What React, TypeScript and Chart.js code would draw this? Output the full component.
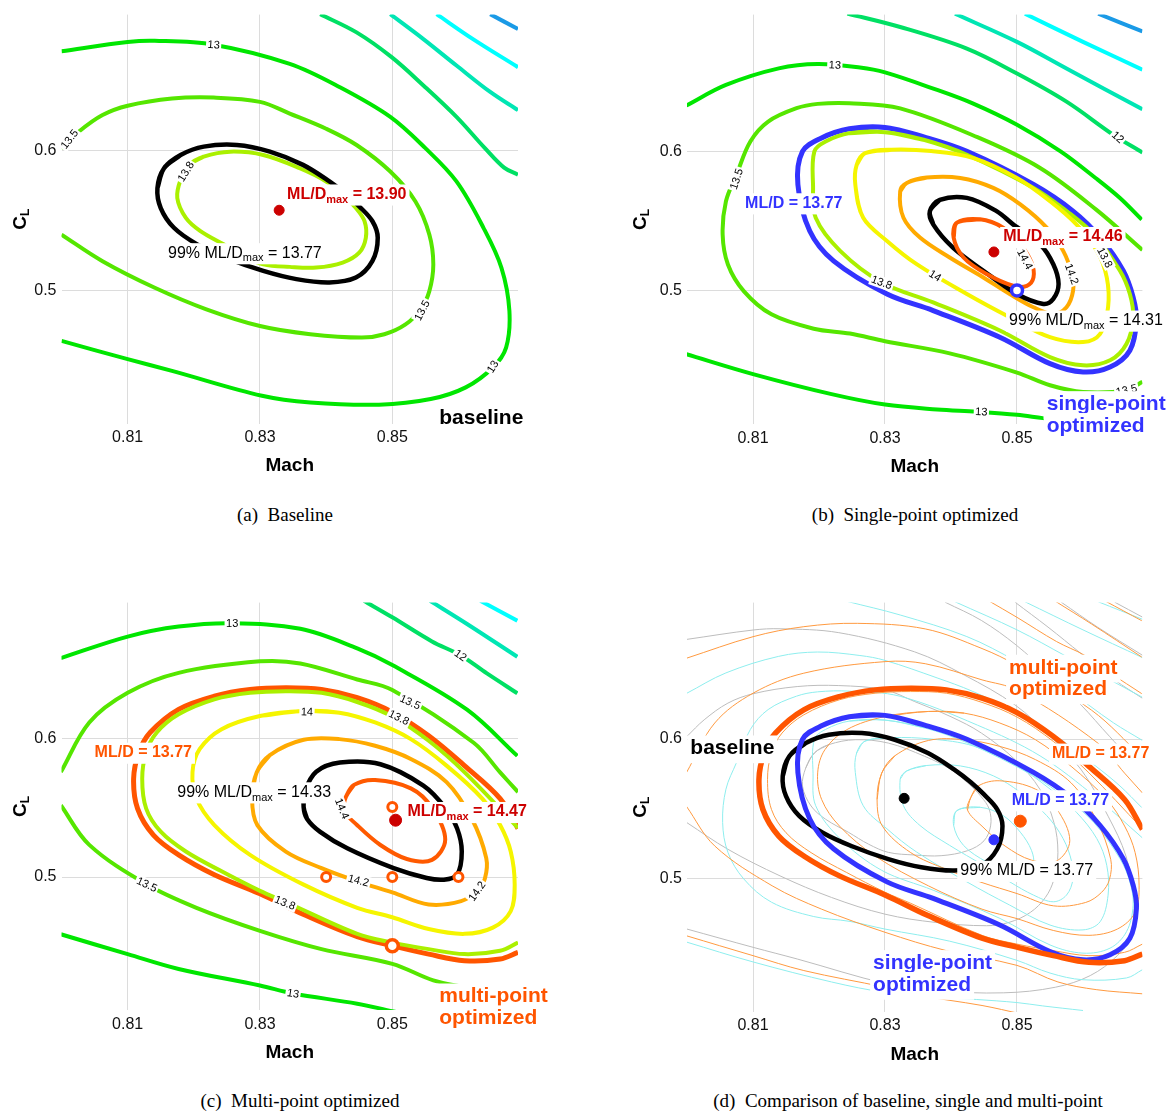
import React, { useEffect, useRef } from 'react';
import { Chart, registerables } from 'chart.js';
Chart.register(...registerables);

type P = [number, number];

// ---------- axes ----------
const X_TICKS = [0.81, 0.83, 0.85];
const Y_TICKS = [0.5, 0.6];
const X_MIN = 0.8, X_MAX = 0.869, Y_MIN = 0.404, Y_MAX = 0.698;

// ---------- (a) baseline contours ----------
const A_9: P[] = [[0.8648,0.6983],[0.8690,0.6876]];
const A_10: P[] = [[0.8567,0.6983],[0.8622,0.6804],[0.8690,0.6602]];
const A_11: P[] = [[0.8497,0.6983],[0.8547,0.6804],[0.8597,0.6614],[0.8648,0.6424],[0.8690,0.6293]];
const A_12: P[] = [[0.8391,0.6983],[0.8446,0.6852],[0.8499,0.6674],[0.8547,0.6471],[0.8597,0.6245],[0.8640,0.6020],[0.8669,0.5880],[0.8690,0.5830]];
const A_13: P[] = [[0.8000,0.6716],[0.8100,0.6783],[0.8141,0.6792],[0.8230,0.6764],[0.8345,0.6626],[0.8420,0.6460],[0.8497,0.6245],[0.8550,0.6020],[0.8597,0.5781],[0.8638,0.5446],[0.8665,0.5160],[0.8677,0.4850],[0.8672,0.4587],[0.8652,0.4444],[0.8611,0.4301],[0.8558,0.4217],[0.8480,0.4177],[0.8376,0.4193],[0.8303,0.4241],[0.8167,0.4420],[0.8100,0.4504],[0.8000,0.4635]];
const A_135: P[] = [[0.8000,0.6019],[0.8026,0.6138],[0.8062,0.6258],[0.8100,0.6325],[0.8167,0.6377],[0.8230,0.6384],[0.8300,0.6353],[0.8345,0.6269],[0.8400,0.6160],[0.8446,0.6043],[0.8497,0.5852],[0.8535,0.5637],[0.8556,0.5399],[0.8562,0.5184],[0.8556,0.4993],[0.8543,0.4862],[0.8520,0.4754],[0.8488,0.4683],[0.8454,0.4659],[0.8376,0.4683],[0.8300,0.4742],[0.8219,0.4862],[0.8141,0.5017],[0.8062,0.5208],[0.8000,0.5399]];
const A_138: P[] = [[0.8193,0.5900],[0.8180,0.5793],[0.8175,0.5662],[0.8188,0.5519],[0.8210,0.5424],[0.8245,0.5329],[0.8275,0.5245],[0.8305,0.5186],[0.8345,0.5167],[0.8385,0.5162],[0.8425,0.5198],[0.8450,0.5269],[0.8460,0.5376],[0.8458,0.5495],[0.8445,0.5590],[0.8425,0.5686],[0.8400,0.5781],[0.8360,0.5876],[0.8305,0.5971],[0.8255,0.5995],[0.8215,0.5960]];
const A_99: P[] = [[0.8155,0.5876],[0.8145,0.5733],[0.8150,0.5590],[0.8170,0.5448],[0.8205,0.5329],[0.8250,0.5230],[0.8305,0.5138],[0.8355,0.5079],[0.8405,0.5055],[0.8445,0.5090],[0.8470,0.5210],[0.8478,0.5376],[0.8470,0.5495],[0.8450,0.5602],[0.8430,0.5690],[0.8405,0.5781],[0.8365,0.5900],[0.8315,0.5995],[0.8265,0.6043],[0.8215,0.6031],[0.8180,0.5971]];
const A_MAX: P = [0.8329, 0.5574];

// ---------- (b) single-point optimized contours ----------
const B_9: P[] = [[0.8623,0.6986],[0.8690,0.6860]];
const B_10: P[] = [[0.8512,0.6986],[0.8600,0.6784],[0.8690,0.6585]];
const B_11: P[] = [[0.8406,0.6986],[0.8500,0.6784],[0.8575,0.6593],[0.8690,0.6300]];
const B_12: P[] = [[0.8243,0.6988],[0.8323,0.6891],[0.8424,0.6736],[0.8500,0.6557],[0.8575,0.6355],[0.8646,0.6117],[0.8690,0.5990]];
const B_13T: P[] = [[0.7999,0.6327],[0.8059,0.6475],[0.8139,0.6594],[0.8198,0.6625],[0.8262,0.6600],[0.8300,0.6565],[0.8379,0.6439],[0.8432,0.6344],[0.8500,0.6189],[0.8566,0.5998],[0.8619,0.5807],[0.8656,0.5663],[0.8689,0.5508]];
const B_13B: P[] = [[0.7999,0.4542],[0.8100,0.4399],[0.8219,0.4255],[0.8300,0.4180],[0.8379,0.4145],[0.8439,0.4129],[0.8500,0.4107],[0.8539,0.4083],[0.8600,0.4050]];
const B_135: P[] = [[0.8690,0.5290],[0.8620,0.5580],[0.8535,0.5879],[0.8440,0.6100],[0.8323,0.6307],[0.8246,0.6344],[0.8198,0.6339],[0.8166,0.6308],[0.8123,0.6212],[0.8096,0.6069],[0.8075,0.5831],[0.8059,0.5640],[0.8054,0.5401],[0.8062,0.5186],[0.8086,0.4995],[0.8128,0.4828],[0.8192,0.4725],[0.8247,0.4690],[0.8300,0.4635],[0.8398,0.4548],[0.8500,0.4410],[0.8550,0.4319],[0.8600,0.4271],[0.8666,0.4284],[0.8690,0.4343]];
const B_1377: P[] = [[0.8300,0.6170],[0.8246,0.6160],[0.8203,0.6093],[0.8175,0.5998],[0.8168,0.5760],[0.8186,0.5426],[0.8222,0.5212],[0.8303,0.4974],[0.8373,0.4855],[0.8474,0.4664],[0.8550,0.4474],[0.8600,0.4414],[0.8641,0.4450],[0.8671,0.4569],[0.8681,0.4784],[0.8676,0.4950],[0.8661,0.5141],[0.8626,0.5379],[0.8585,0.5569],[0.8525,0.5760],[0.8424,0.5998],[0.8360,0.6100]];
const B_138: P[] = [[0.8300,0.6136],[0.8246,0.6129],[0.8210,0.6069],[0.8193,0.5998],[0.8191,0.5750],[0.8195,0.5521],[0.8232,0.5284],[0.8295,0.5057],[0.8373,0.4914],[0.8474,0.4712],[0.8550,0.4521],[0.8600,0.4462],[0.8641,0.4498],[0.8666,0.4617],[0.8676,0.4807],[0.8671,0.4974],[0.8656,0.5141],[0.8616,0.5403],[0.8575,0.5570],[0.8525,0.5736],[0.8424,0.5974],[0.8360,0.6080]];
const B_14: P[] = [[0.8270,0.5985],[0.8257,0.5900],[0.8255,0.5760],[0.8267,0.5521],[0.8303,0.5355],[0.8348,0.5188],[0.8424,0.4974],[0.8489,0.4807],[0.8550,0.4664],[0.8600,0.4629],[0.8626,0.4688],[0.8638,0.4879],[0.8636,0.5093],[0.8621,0.5284],[0.8590,0.5474],[0.8550,0.5641],[0.8500,0.5807],[0.8434,0.5950],[0.8370,0.6000],[0.8310,0.6010]];
const B_142: P[] = [[0.8333,0.5771],[0.8323,0.5712],[0.8328,0.5521],[0.8353,0.5379],[0.8398,0.5236],[0.8449,0.5093],[0.8489,0.4974],[0.8525,0.4879],[0.8555,0.4831],[0.8575,0.4879],[0.8585,0.4998],[0.8583,0.5117],[0.8570,0.5284],[0.8545,0.5450],[0.8505,0.5617],[0.8464,0.5736],[0.8414,0.5807],[0.8363,0.5810]];
const B_99: P[] = [[0.8368,0.5569],[0.8373,0.5474],[0.8403,0.5307],[0.8449,0.5141],[0.8500,0.4974],[0.8540,0.4903],[0.8555,0.4939],[0.8563,0.5046],[0.8555,0.5188],[0.8535,0.5331],[0.8494,0.5474],[0.8469,0.5569],[0.8424,0.5664],[0.8383,0.5650]];
const B_144: P[] = [[0.8409,0.5486],[0.8404,0.5379],[0.8419,0.5236],[0.8454,0.5117],[0.8494,0.5033],[0.8515,0.5033],[0.8525,0.5093],[0.8522,0.5200],[0.8505,0.5331],[0.8479,0.5450],[0.8444,0.5510]];
const B_MAX: P = [0.8465, 0.5276];
const B_DESIGN: P = [0.85, 0.50];

// ---------- (c) multi-point optimized contours ----------
const C_10: P[] = [[0.8633,0.6993],[0.8689,0.6850]];
const C_11: P[] = [[0.8557,0.6993],[0.8613,0.6826],[0.8689,0.6589]];
const C_12: P[] = [[0.8457,0.6993],[0.8500,0.6874],[0.8560,0.6700],[0.8603,0.6600],[0.8643,0.6469],[0.8689,0.6326]];
const C_13T: P[] = [[0.7999,0.6580],[0.8100,0.6735],[0.8177,0.6807],[0.8258,0.6831],[0.8361,0.6791],[0.8447,0.6650],[0.8500,0.6529],[0.8613,0.6207],[0.8689,0.5874]];
const C_13B: P[] = [[0.7999,0.4587],[0.8100,0.4444],[0.8177,0.4337],[0.8300,0.4217],[0.8350,0.4160],[0.8447,0.4086],[0.8506,0.4026]];
const C_135A: P[] = [[0.7999,0.5757],[0.8042,0.6115],[0.8100,0.6329],[0.8177,0.6473],[0.8300,0.6556],[0.8361,0.6541],[0.8447,0.6425],[0.8500,0.6350],[0.8623,0.5969],[0.8663,0.5755],[0.8690,0.5613]];
const C_135B: P[] = [[0.7999,0.5518],[0.8042,0.5232],[0.8129,0.4946],[0.8204,0.4778],[0.8300,0.4612],[0.8393,0.4480],[0.8500,0.4374],[0.8562,0.4255],[0.8620,0.4200],[0.8690,0.4170]];
const C_1377: P[] = [[0.8690,0.5351],[0.8663,0.5566],[0.8609,0.5804],[0.8555,0.6019],[0.8500,0.6190],[0.8447,0.6294],[0.8393,0.6353],[0.8339,0.6365],[0.8285,0.6353],[0.8231,0.6305],[0.8177,0.6210],[0.8134,0.6043],[0.8117,0.5900],[0.8109,0.5709],[0.8115,0.5494],[0.8139,0.5303],[0.8177,0.5160],[0.8231,0.5017],[0.8300,0.4880],[0.8366,0.4730],[0.8447,0.4570],[0.8500,0.4505],[0.8555,0.4444],[0.8609,0.4396],[0.8663,0.4408],[0.8690,0.4456]];
const C_138: P[] = [[0.8690,0.5355],[0.8609,0.5757],[0.8555,0.5983],[0.8500,0.6158],[0.8447,0.6263],[0.8393,0.6329],[0.8339,0.6341],[0.8285,0.6329],[0.8231,0.6282],[0.8177,0.6174],[0.8144,0.6043],[0.8128,0.5900],[0.8122,0.5709],[0.8128,0.5494],[0.8150,0.5327],[0.8188,0.5184],[0.8242,0.5041],[0.8300,0.4900],[0.8339,0.4820],[0.8447,0.4590],[0.8500,0.4527],[0.8555,0.4480],[0.8609,0.4444],[0.8663,0.4468],[0.8690,0.4527]];
const C_14: P[] = [[0.8366,0.6198],[0.8300,0.6162],[0.8242,0.6067],[0.8209,0.5924],[0.8198,0.5757],[0.8204,0.5566],[0.8231,0.5375],[0.8285,0.5160],[0.8366,0.4945],[0.8447,0.4778],[0.8500,0.4710],[0.8555,0.4625],[0.8609,0.4590],[0.8652,0.4635],[0.8679,0.4754],[0.8685,0.4945],[0.8679,0.5184],[0.8663,0.5375],[0.8636,0.5566],[0.8582,0.5804],[0.8528,0.5995],[0.8474,0.6115],[0.8420,0.6186]];
const C_142: P[] = [[0.8295,0.5755],[0.8315,0.5880],[0.8366,0.5990],[0.8420,0.5995],[0.8474,0.5947],[0.8528,0.5852],[0.8582,0.5685],[0.8620,0.5422],[0.8642,0.5136],[0.8640,0.4990],[0.8628,0.4898],[0.8604,0.4826],[0.8555,0.4802],[0.8500,0.4890],[0.8447,0.4969],[0.8393,0.5064],[0.8339,0.5184],[0.8296,0.5375],[0.8288,0.5566]];
const C_99: P[] = [[0.8366,0.5505],[0.8368,0.5620],[0.8385,0.5760],[0.8421,0.5826],[0.8482,0.5814],[0.8547,0.5660],[0.8580,0.5500],[0.8598,0.5350],[0.8605,0.5184],[0.8598,0.5017],[0.8578,0.4981],[0.8552,0.4993],[0.8502,0.5064],[0.8432,0.5207],[0.8391,0.5326],[0.8371,0.5421]];
const C_144: P[] = [[0.8430,0.5580],[0.8442,0.5665],[0.8474,0.5700],[0.8528,0.5640],[0.8560,0.5500],[0.8580,0.5270],[0.8560,0.5124],[0.8522,0.5130],[0.8482,0.5231],[0.8447,0.5374],[0.8425,0.5490]];
const C_MAX: P = [0.8505, 0.5410];
const C_DESIGN: P[] = [[0.85,0.5505],[0.84,0.50],[0.85,0.50],[0.86,0.50]];
const C_DESIGN_BIG: P = [0.85, 0.4505];

// ---------- styling ----------
const FAM = '"Liberation Sans", Arial, Helvetica, sans-serif';
const COL = {
  c9: '#1a9ae6', c10: '#00ffff', c11: '#00e6b4', c12: '#00e064', c13: '#00e600',
  c135: '#55e600', c138: '#aaf000', c14: '#f5f500', c142: '#ffaa00', c144: '#ff5a00',
  black: '#000000', blue: '#3333ff', multi: '#ff5500', red: '#cc0000',
  thinA: '#bdbdbd', thinB: '#8eeeee', thinC: '#ff9a40',
};

interface LineSpec { pts: P[]; color: string; width: number; closed?: boolean }
interface MarkSpec { p: P; r: number; fill: string; stroke: string; bw: number }
interface Seg { t: string; sub?: boolean }
interface Ann { segs: Seg[]; x: number; y: number; color: string; size: number; bold?: boolean }
interface CLab { t: string; x: number; y: number; rot: number }
interface PanelCfg {
  left: number; top: number; width: number; height: number;
  yAxisW: number; padRight: number; padTop: number; xAxisH: number;
  lines: LineSpec[]; marks: MarkSpec[]; anns: Ann[]; clabs: CLab[];
}

const mx = (t: string): Seg[] => [{ t: 'ML/D' }, { t: 'max', sub: true }, { t }];
const mx99 = (t: string): Seg[] => [{ t: '99% ML/D' }, { t: 'max', sub: true }, { t }];

const A_LINES: LineSpec[] = [
  { pts: A_9, color: COL.c9, width: 4 }, { pts: A_10, color: COL.c10, width: 4 },
  { pts: A_11, color: COL.c11, width: 4 }, { pts: A_12, color: COL.c12, width: 4 },
  { pts: A_13, color: COL.c13, width: 4 }, { pts: A_135, color: COL.c135, width: 4 },
  { pts: A_138, color: COL.c138, width: 4, closed: true },
  { pts: A_99, color: COL.black, width: 4.5, closed: true },
];
const B_LINES: LineSpec[] = [
  { pts: B_9, color: COL.c9, width: 4 }, { pts: B_10, color: COL.c10, width: 4 },
  { pts: B_11, color: COL.c11, width: 4 }, { pts: B_12, color: COL.c12, width: 4 },
  { pts: B_13T, color: COL.c13, width: 4 }, { pts: B_13B, color: COL.c13, width: 4 },
  { pts: B_135, color: COL.c135, width: 4 },
  { pts: B_1377, color: COL.blue, width: 5, closed: true },
  { pts: B_138, color: COL.c138, width: 4, closed: true },
  { pts: B_14, color: COL.c14, width: 4, closed: true },
  { pts: B_142, color: COL.c142, width: 4, closed: true },
  { pts: B_99, color: COL.black, width: 4.5, closed: true },
  { pts: B_144, color: COL.c144, width: 4, closed: true },
];
const C_LINES: LineSpec[] = [
  { pts: C_10, color: COL.c10, width: 4 }, { pts: C_11, color: COL.c11, width: 4 },
  { pts: C_12, color: COL.c12, width: 4 },
  { pts: C_13T, color: COL.c13, width: 4 }, { pts: C_13B, color: COL.c13, width: 4 },
  { pts: C_135A, color: COL.c135, width: 4 }, { pts: C_135B, color: COL.c135, width: 4 },
  { pts: C_1377, color: COL.multi, width: 5 },
  { pts: C_138, color: COL.c138, width: 4 },
  { pts: C_14, color: COL.c14, width: 4, closed: true },
  { pts: C_142, color: COL.c142, width: 4, closed: true },
  { pts: C_99, color: COL.black, width: 4.5, closed: true },
  { pts: C_144, color: COL.c144, width: 4, closed: true },
];
const thin = (ls: LineSpec[], color: string, skip: P[][]) =>
  ls.filter(l => !skip.includes(l.pts)).map(l => ({ ...l, color, width: 1 }));
const D_LINES: LineSpec[] = [
  ...thin(A_LINES, COL.thinA, [A_99]),
  ...thin(B_LINES, COL.thinB, [B_99, B_1377]),
  ...thin(C_LINES, COL.thinC, [C_99, C_1377]),
  { pts: A_99, color: COL.black, width: 4.5, closed: true },
  { pts: B_1377, color: COL.blue, width: 5, closed: true },
  { pts: C_1377, color: COL.multi, width: 5.5 },
];

const PANELS: PanelCfg[] = [
  {
    left: 0, top: 0, width: 560, height: 490, yAxisW: 61.5, padRight: 42, padTop: 12.1, xAxisH: 66.3,
    lines: A_LINES,
    marks: [{ p: A_MAX, r: 5, fill: COL.red, stroke: COL.red, bw: 1 }],
    anns: [
      { segs: mx(' = 13.90'), x: 0.8341, y: 0.5688, color: COL.red, size: 16, bold: true },
      { segs: mx99(' = 13.77'), x: 0.8161, y: 0.5266, color: '#000', size: 16 },
      { segs: [{ t: 'baseline' }], x: 0.8571, y: 0.4081, color: '#000', size: 21, bold: true },
    ],
    clabs: [
      { t: '13', x: 0.8230, y: 0.6764, rot: 4 },
      { t: '13.5', x: 0.8012, y: 0.6085, rot: -52 },
      { t: '13.8', x: 0.8188, y: 0.5852, rot: -58 },
      { t: '13.5', x: 0.8545, y: 0.4855, rot: -62 },
      { t: '13', x: 0.8652, y: 0.4450, rot: -58 },
    ],
  },
  {
    left: 620, top: 0, width: 553, height: 490, yAxisW: 67, padRight: 30.6, padTop: 12.5, xAxisH: 65.9,
    lines: B_LINES,
    marks: [
      { p: B_MAX, r: 5, fill: COL.red, stroke: COL.red, bw: 1 },
      { p: B_DESIGN, r: 5.5, fill: '#ffffff', stroke: COL.blue, bw: 3.5 },
    ],
    anns: [
      { segs: mx(' = 14.46'), x: 0.8479, y: 0.5384, color: COL.red, size: 16, bold: true },
      { segs: [{ t: 'ML/D = 13.77' }], x: 0.8088, y: 0.5626, color: COL.blue, size: 16, bold: true },
      { segs: mx99(' = 14.31'), x: 0.8488, y: 0.4784, color: '#000', size: 16 },
      { segs: [{ t: 'single-point' }], x: 0.8545, y: 0.4183, color: COL.blue, size: 21, bold: true },
      { segs: [{ t: 'optimized' }], x: 0.8545, y: 0.4026, color: COL.blue, size: 21, bold: true },
    ],
    clabs: [
      { t: '13', x: 0.8224, y: 0.6618, rot: 3 },
      { t: '12', x: 0.8653, y: 0.6100, rot: 42 },
      { t: '13.5', x: 0.8075, y: 0.5800, rot: -72 },
      { t: '13.8', x: 0.8295, y: 0.5057, rot: 20 },
      { t: '14', x: 0.8376, y: 0.5105, rot: 32 },
      { t: '14.4', x: 0.8512, y: 0.5224, rot: 62 },
      { t: '14.2', x: 0.8583, y: 0.5117, rot: 70 },
      { t: '13.8', x: 0.8633, y: 0.5236, rot: 62 },
      { t: '13', x: 0.8446, y: 0.4129, rot: 2 },
      { t: '13.5', x: 0.8666, y: 0.4284, rot: -12 },
    ],
  },
  {
    left: 0, top: 588, width: 560, height: 490, yAxisW: 61.5, padRight: 42, padTop: 10.5, xAxisH: 67.9,
    lines: C_LINES,
    marks: [
      ...C_DESIGN.map(p => ({ p, r: 4.5, fill: '#ffffff', stroke: COL.multi, bw: 3 })),
      { p: C_DESIGN_BIG, r: 6, fill: '#ffffff', stroke: COL.multi, bw: 3.5 },
      { p: C_MAX, r: 6, fill: COL.red, stroke: COL.red, bw: 1 },
    ],
    anns: [
      { segs: [{ t: 'ML/D = 13.77' }], x: 0.8050, y: 0.5898, color: COL.multi, size: 16, bold: true },
      { segs: mx99(' = 14.33'), x: 0.8175, y: 0.5612, color: '#000', size: 16 },
      { segs: mx(' = 14.47'), x: 0.8523, y: 0.5470, color: COL.red, size: 16, bold: true },
      { segs: [{ t: 'multi-point' }], x: 0.8571, y: 0.4138, color: COL.multi, size: 21, bold: true },
      { segs: [{ t: 'optimized' }], x: 0.8571, y: 0.3980, color: COL.multi, size: 21, bold: true },
    ],
    clabs: [
      { t: '13', x: 0.8258, y: 0.6831, rot: 0 },
      { t: '12', x: 0.8603, y: 0.6600, rot: 35 },
      { t: '13.5', x: 0.8527, y: 0.6262, rot: 24 },
      { t: '13.8', x: 0.8510, y: 0.6150, rot: 26 },
      { t: '14', x: 0.8371, y: 0.6192, rot: 2 },
      { t: '14.4', x: 0.8424, y: 0.5493, rot: 68 },
      { t: '14.2', x: 0.8449, y: 0.4975, rot: 15 },
      { t: '14.2', x: 0.8628, y: 0.4898, rot: -55 },
      { t: '13.8', x: 0.8338, y: 0.4814, rot: 22 },
      { t: '13.5', x: 0.8129, y: 0.4946, rot: 25 },
      { t: '13', x: 0.8350, y: 0.4160, rot: 9 },
    ],
  },
  {
    left: 620, top: 588, width: 553, height: 490, yAxisW: 67, padRight: 30.6, padTop: 12.3, xAxisH: 66.1,
    lines: D_LINES,
    marks: [
      { p: A_MAX, r: 5, fill: '#000', stroke: '#000', bw: 1 },
      { p: B_MAX, r: 5, fill: COL.blue, stroke: COL.blue, bw: 1 },
      { p: C_MAX, r: 6, fill: COL.multi, stroke: COL.multi, bw: 1 },
    ],
    anns: [
      { segs: [{ t: 'baseline' }], x: 0.8005, y: 0.5932, color: '#000', size: 21, bold: true },
      { segs: [{ t: 'multi-point' }], x: 0.8488, y: 0.6512, color: COL.multi, size: 21, bold: true },
      { segs: [{ t: 'optimized' }], x: 0.8488, y: 0.6355, color: COL.multi, size: 21, bold: true },
      { segs: [{ t: 'ML/D = 13.77' }], x: 0.8553, y: 0.5896, color: COL.multi, size: 16, bold: true },
      { segs: [{ t: 'ML/D = 13.77' }], x: 0.8492, y: 0.5561, color: COL.blue, size: 16, bold: true },
      { segs: [{ t: '99% ML/D = 13.77' }], x: 0.8414, y: 0.5054, color: '#000', size: 16 },
      { segs: [{ t: 'single-point' }], x: 0.8282, y: 0.4390, color: COL.blue, size: 21, bold: true },
      { segs: [{ t: 'optimized' }], x: 0.8282, y: 0.4233, color: COL.blue, size: 21, bold: true },
    ],
    clabs: [],
  },
];

const CAPTIONS = [
  { t: '(a)\u00a0\u00a0Baseline', cx: 285, cy: 515 },
  { t: '(b)\u00a0\u00a0Single-point optimized', cx: 915, cy: 515 },
  { t: '(c)\u00a0\u00a0Multi-point optimized', cx: 300, cy: 1101 },
  { t: '(d)\u00a0\u00a0Comparison of baseline, single and multi-point', cx: 908, cy: 1101 },
];

function drawAnn(ctx: CanvasRenderingContext2D, a: Ann, px: number, py: number) {
  const wt = a.bold ? 'bold ' : '';
  const subSize = Math.round(a.size * 0.68);
  const widths: number[] = [];
  let total = 0;
  for (const s of a.segs) {
    ctx.font = `${wt}${s.sub ? subSize : a.size}px ${FAM}`;
    const w = ctx.measureText(s.t).width;
    widths.push(w);
    total += w;
  }
  ctx.fillStyle = '#ffffff';
  ctx.fillRect(px - 3, py - a.size * 0.62, total + 6, a.size * 1.32);
  ctx.fillStyle = a.color;
  ctx.textBaseline = 'middle';
  ctx.textAlign = 'left';
  let x = px;
  a.segs.forEach((s, i) => {
    ctx.font = `${wt}${s.sub ? subSize : a.size}px ${FAM}`;
    ctx.fillText(s.t, x, s.sub ? py + a.size * 0.33 : py);
    x += widths[i];
  });
}

const annPlugin = {
  id: 'annots',
  afterDatasetsDraw(chart: any, _args: any, opts: any) {
    const cfg: PanelCfg = opts.cfg;
    const { ctx, chartArea } = chart;
    const xs = chart.scales.x, ys = chart.scales.y;
    ctx.save();
    for (const c of cfg.clabs) {
      const px = xs.getPixelForValue(c.x), py = ys.getPixelForValue(c.y);
      ctx.save();
      ctx.translate(px, py);
      ctx.rotate((c.rot * Math.PI) / 180);
      ctx.font = `11px ${FAM}`;
      const w = ctx.measureText(c.t).width;
      ctx.fillStyle = '#ffffff';
      ctx.fillRect(-w / 2 - 1.5, -6, w + 3, 12);
      ctx.fillStyle = '#000';
      ctx.textAlign = 'center';
      ctx.textBaseline = 'middle';
      ctx.fillText(c.t, 0, 0.5);
      ctx.restore();
    }
    for (const a of cfg.anns) drawAnn(ctx, a, xs.getPixelForValue(a.x), ys.getPixelForValue(a.y));
    // axis titles
    ctx.fillStyle = '#000';
    ctx.font = `bold 19px ${FAM}`;
    ctx.textAlign = 'center';
    ctx.textBaseline = 'middle';
    ctx.fillText('Mach', (chartArea.left + chartArea.right) / 2, chartArea.bottom + 42.5);
    ctx.save();
    ctx.translate(20.5, (chartArea.top + chartArea.bottom) / 2);
    ctx.rotate(-Math.PI / 2);
    ctx.font = `bold 19px ${FAM}`;
    const wc = ctx.measureText('C').width;
    ctx.font = `bold 12px ${FAM}`;
    const wl = ctx.measureText('L').width;
    const x0 = -(wc + wl) / 2;
    ctx.textAlign = 'left';
    ctx.font = `bold 19px ${FAM}`;
    ctx.fillText('C', x0, 0);
    ctx.font = `bold 12px ${FAM}`;
    ctx.fillText('L', x0 + wc, 5);
    ctx.restore();
    ctx.restore();
  },
};

function buildDatasets(cfg: PanelCfg) {
  const list: any[] = [];
  for (const l of cfg.lines) {
    const n = l.pts.length;
    const arr = l.closed ? [l.pts[n - 1], ...l.pts, l.pts[0], l.pts[1]] : l.pts;
    list.push({
      data: arr.map(([x, y]) => ({ x, y })),
      showLine: true,
      borderColor: l.color,
      backgroundColor: l.color,
      borderWidth: l.width,
      borderJoinStyle: 'round',
      pointRadius: 0,
      pointHoverRadius: 0,
      tension: 0.35,
      fill: false,
      clip: 0,
    });
  }
  for (const m of cfg.marks) {
    list.push({
      data: [{ x: m.p[0], y: m.p[1] }],
      showLine: false,
      pointRadius: m.r,
      pointHoverRadius: m.r,
      pointBackgroundColor: m.fill,
      pointBorderColor: m.stroke,
      pointBorderWidth: m.bw,
      clip: false,
    });
  }
  const N = list.length;
  list.forEach((d, i) => { d.order = N - i; });
  return list;
}

function Panel({ cfg }: { cfg: PanelCfg }) {
  const ref = useRef<HTMLCanvasElement>(null);
  useEffect(() => {
    const canvas = ref.current!;
    const chart = new Chart(canvas, {
      type: 'scatter',
      data: { datasets: buildDatasets(cfg) },
      options: {
        responsive: false,
        animation: false,
        events: [],
        layout: { padding: { left: 0, top: cfg.padTop, right: cfg.padRight, bottom: 0 } },
        plugins: { legend: { display: false }, tooltip: { enabled: false }, annots: { cfg } } as any,
        scales: {
          x: {
            type: 'linear', min: X_MIN, max: X_MAX,
            afterBuildTicks: (s: any) => { s.ticks = X_TICKS.map(v => ({ value: v })); },
            afterFit: (s: any) => { s.height = cfg.xAxisH; },
            grid: { color: '#dcdcdc', lineWidth: 1, drawTicks: false },
            border: { display: false },
            ticks: { color: '#111', font: { family: FAM, size: 16 }, padding: 4.5, maxRotation: 0, autoSkip: false, callback: (v: any) => String(v) },
          },
          y: {
            type: 'linear', min: Y_MIN, max: Y_MAX,
            afterBuildTicks: (s: any) => { s.ticks = Y_TICKS.map(v => ({ value: v })); },
            afterFit: (s: any) => { s.width = cfg.yAxisW; },
            grid: { color: '#dcdcdc', lineWidth: 1, drawTicks: false },
            border: { display: false },
            ticks: { color: '#111', font: { family: FAM, size: 16 }, padding: 5, autoSkip: false, callback: (v: any) => String(v) },
          },
        },
      } as any,
      plugins: [annPlugin as any],
    });
    return () => chart.destroy();
  }, [cfg]);
  return (
    <canvas
      ref={ref}
      width={cfg.width}
      height={cfg.height}
      style={{ position: 'absolute', left: cfg.left, top: cfg.top, width: cfg.width, height: cfg.height }}
    />
  );
}

export default function App() {
  return (
    <div style={{ position: 'absolute', left: 0, top: 0, width: 1173, height: 1114, background: '#ffffff', overflow: 'hidden' }}>
      {PANELS.map((p, i) => <Panel key={i} cfg={p} />)}
      {CAPTIONS.map((c, i) => (
        <div
          key={'cap' + i}
          style={{
            position: 'absolute', left: c.cx - 300, width: 600, top: c.cy - 11, height: 22, lineHeight: '22px',
            textAlign: 'center', fontFamily: '"Liberation Serif", "Times New Roman", serif', fontSize: 19, color: '#000', whiteSpace: 'pre',
          }}
        >
          {c.t}
        </div>
      ))}
    </div>
  );
}
